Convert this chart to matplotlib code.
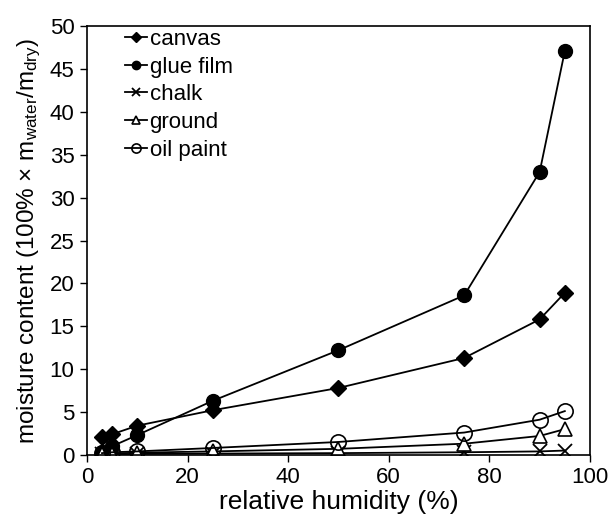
import matplotlib
matplotlib.use("Agg")
import matplotlib.pyplot as plt

plt.rcParams['font.family'] = ['Liberation Sans', 'DejaVu Sans']
plt.rcParams['mathtext.fontset'] = 'custom'
plt.rcParams['mathtext.rm'] = 'Liberation Sans'
plt.rcParams['mathtext.it'] = 'Liberation Sans'

rh = [3, 5, 10, 25, 50, 75, 90, 95]
canvas = [2.1, 2.4, 3.4, 5.2, 7.8, 11.3, 15.8, 18.9]
glue_film = [0.3, 1.0, 2.3, 6.3, 12.2, 18.6, 33.0, 47.1]
chalk = [0.05, 0.05, 0.1, 0.15, 0.2, 0.3, 0.4, 0.5]
ground = [0.1, 0.15, 0.25, 0.4, 0.7, 1.3, 2.2, 3.0]
oil_paint = [0.2, 0.3, 0.4, 0.8, 1.5, 2.6, 4.1, 5.1]

x_ticks = [0, 20, 40, 60, 80, 100]
y_ticks = [0, 5, 10, 15, 20, 25, 30, 35, 40, 45, 50]

fig = plt.figure(figsize=(6.12, 5.24), dpi=100)
ax = fig.add_axes([0.142, 0.132, 0.822, 0.818])

style = dict(color='black', lw=1.3)
ax.plot(rh, canvas, marker='D', ms=8.5, mfc='black', mec='black', label='canvas', **style)
ax.plot(rh, glue_film, marker='o', ms=10, mfc='black', mec='black', label='glue film', **style)
ax.plot(rh, chalk, marker='x', ms=10, mew=1.3, label='chalk', **style)
ax.plot(rh, ground, marker='^', ms=10, mfc='white', mec='black', mew=1.2, label='ground', **style)
ax.plot(rh, oil_paint, marker='o', ms=11, mfc='none', mec='black', mew=1.2, label='oil paint', **style)

ax.set_xlim(0, 100)
ax.set_ylim(0, 50)
ax.set_xticks(x_ticks)
ax.set_yticks(y_ticks)
ax.tick_params(direction='out', length=5, width=1, labelsize=16, colors='black', pad=4)
for s in ax.spines.values():
    s.set_linewidth(1.2)

ax.set_xlabel('relative humidity (%)', fontsize=19, labelpad=1)
ax.set_ylabel(r'moisture content (100% × m$_{\mathrm{water}}$/m$_{\mathrm{dry}}$)', fontsize=17.5, labelpad=5)

leg = ax.legend(loc='upper left', frameon=False, fontsize=16, handlelength=1.0,
                handletextpad=0.1, markerscale=0.6, labelspacing=0.3,
                bbox_to_anchor=(0.045, 1.03), borderaxespad=0.3)

fig.savefig('out.png', dpi=100)
